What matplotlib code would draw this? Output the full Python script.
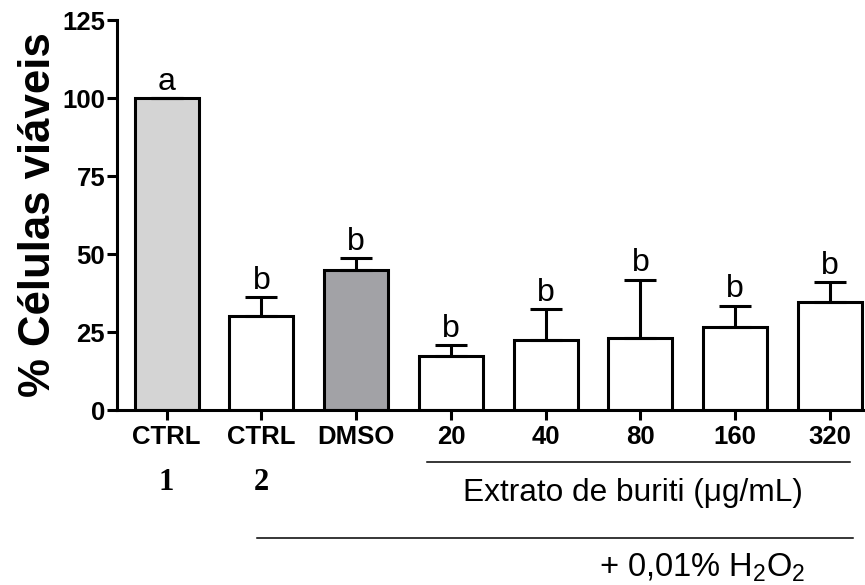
import numpy as np
import matplotlib
matplotlib.use("Agg")
import matplotlib.pyplot as plt

plt.rcParams["font.family"] = ["Liberation Sans", "DejaVu Sans"]
plt.rcParams["mathtext.fontset"] = "custom"
plt.rcParams["mathtext.rm"] = "Liberation Sans"
plt.rcParams["mathtext.it"] = "Liberation Sans:italic"
plt.rcParams["mathtext.bf"] = "Liberation Sans:bold"

# data
groups = ["CTRL", "CTRL", "DMSO", "20", "40", "80", "160", "320"]
means = [100.0, 30.1, 44.9, 17.3, 22.4, 23.2, 26.7, 34.7]
sem_up = [0.0, 6.1, 3.8, 3.5, 10.0, 18.6, 6.7, 6.2]
letters = ["a", "b", "b", "b", "b", "b", "b", "b"]
colors = ["#d4d4d4", "white", "#a2a2a6", "white", "white", "white", "white", "white"]

LW = 2.2
x = np.arange(len(groups))

fig = plt.figure(figsize=(8.65, 5.85), dpi=100)
ax = fig.add_axes([117 / 865, 175 / 585, 1 - 117 / 865, 390 / 585])

ax.bar(x, means, width=0.675, color=colors, edgecolor="black", linewidth=LW, zorder=2)
ax.errorbar(x, means, yerr=[np.zeros(len(x)), sem_up], fmt="none", ecolor="black",
            elinewidth=LW, capsize=11.5, capthick=LW, zorder=3)

for xi, m, e, s in zip(x, means, sem_up, letters):
    ax.annotate(s, (xi, m + e), xytext=(0, 6), textcoords="offset points",
                ha="center", va="baseline", fontsize=23)

ax.set_xlim(-0.524, 7.37)
ax.set_ylim(0, 125)
ax.set_yticks([0, 25, 50, 75, 100, 125])
ax.set_xticks(x)
ax.set_xticklabels(groups)
for s in ("top", "right"):
    ax.spines[s].set_visible(False)
for s in ("left", "bottom"):
    ax.spines[s].set_linewidth(LW)
ax.tick_params(axis="both", width=LW, length=7, labelsize=18.5)
ax.tick_params(axis="y", pad=1.5)
ax.tick_params(axis="x", pad=4)
for lab in ax.get_xticklabels() + ax.get_yticklabels():
    lab.set_fontweight("bold")

ax.set_ylabel("% Células viáveis", fontsize=31.5, fontweight="bold", labelpad=2)

# group annotations below the axis
tr = ax.get_xaxis_transform()
ax.plot([2.75, 7.21], [-0.133, -0.133], color="black", lw=1.1, transform=tr, clip_on=False)
ax.text(4.92, -0.213, "Extrato de buriti (μg/mL)", transform=tr, ha="center", va="center",
        fontsize=22.8)
ax.plot([0.95, 7.24], [-0.328, -0.328], color="black", lw=1.1, transform=tr, clip_on=False)
ax.text(5.65, -0.405, "+ 0,01% H$_2$O$_2$", transform=tr, ha="center", va="center",
        fontsize=23.5)
for xi, t in [(0, "1"), (1, "2")]:
    ax.text(xi, -0.185, t, transform=tr, ha="center", va="center", fontsize=22,
            fontweight="bold", family="Liberation Serif")

fig.savefig("out.png", dpi=100)
